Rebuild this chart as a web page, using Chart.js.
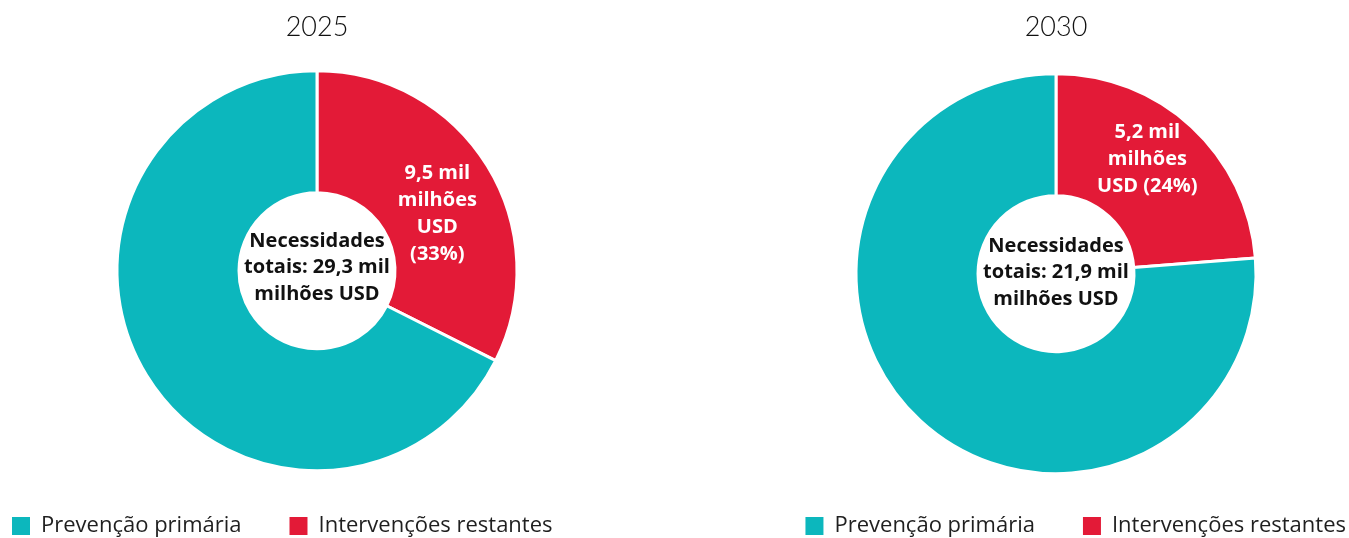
<!DOCTYPE html>
<html>
<head>
<meta charset="utf-8">
<script src="https://cdn.jsdelivr.net/npm/chart.js@4.4.1/dist/chart.umd.min.js"></script>
<style>
  html, body { margin: 0; padding: 0; background: #fff; overflow: hidden; width: 1349px; height: 538px; }
  .box { position: absolute; top: 0; height: 547px; }
</style>
</head>
<body>
<div class="box" style="left:-36px;width:706px"><canvas id="chart2025"></canvas></div>
<div class="box" style="left:718px;width:676px"><canvas id="chart2030"></canvas></div>
<script>
// data (mil milhões USD)
const years = ['2025', '2030'];
const categories = ['Intervenções restantes', 'Prevenção primária'];
const restantes = [9.5, 5.2];
const prevencao = [19.8, 16.7];
const totais = [29.3, 21.9];
const percent = [33, 24];

const colors = ['#E31A37', '#0CB7BD'];

function fmt(v) {
    return v.toFixed(1).replace('.', ',');
}

// draws a few centred lines of text around (x, y)
function drawLines(ctx, lines, x, y, lh) {
    let y0 = y - (lines.length - 1) * lh / 2;
    lines.forEach((t, i) => ctx.fillText(t, x, y0 + i * lh));
}

const sliceText = {
    id: 'sliceText',
    afterDatasetsDraw(chart, args, opts) {
        const ctx = chart.ctx;
        const arc = chart.getDatasetMeta(0).data[0];
        const pos = arc.getCenterPoint();
        ctx.save();
        ctx.textAlign = 'center';
        ctx.textBaseline = 'middle';
        ctx.font = '700 20px "Open Sans"';
        ctx.fillStyle = '#ffffff';
        drawLines(ctx, opts.slice, pos.x + opts.dx, pos.y + opts.dy, 27);
        ctx.fillStyle = '#111111';
        drawLines(ctx, opts.center, arc.x, arc.y + opts.cy, 26.5);
        ctx.restore();
    }
};

function makeChart(i, sliceLines, dx, dy, cy, titleBottom, legendAlign) {
    const ctx = document.getElementById('chart' + years[i]);
    return new Chart(ctx, {
        type: 'doughnut',
        data: {
            labels: categories,
            datasets: [{
                data: [restantes[i], prevencao[i]],
                backgroundColor: colors,
                borderColor: '#ffffff',
                borderWidth: 3
            }]
        },
        options: {
            responsive: true,
            maintainAspectRatio: false,
            animation: false,
            radius: 200,
            cutout: '39%',
            plugins: {
                tooltip: { enabled: false },
                title: {
                    display: true,
                    text: years[i],
                    color: '#111111',
                    font: { family: 'Lato', size: 27, weight: '300' },
                    padding: { top: 11, bottom: titleBottom }
                },
                legend: {
                    position: 'bottom',
                    align: legendAlign,
                    reverse: true,
                    labels: {
                        boxWidth: 18,
                        boxHeight: 18,
                        padding: 48,
                        color: '#1f1f1f',
                        font: { family: 'Open Sans', size: 22, weight: '400' },
                        generateLabels(chart) {
                            const items = Chart.overrides.doughnut.plugins.legend.labels.generateLabels(chart);
                            items.forEach(it => { it.lineWidth = 0; });
                            return items;
                        }
                    }
                },
                sliceText: {
                    slice: sliceLines,
                    center: ['Necessidades', 'totais: ' + fmt(totais[i]) + ' mil', 'milhões USD'],
                    dx: dx,
                    dy: dy,
                    cy: cy
                }
            }
        },
        plugins: [sliceText]
    });
}

makeChart(0, [fmt(restantes[0]) + ' mil', 'milhões', 'USD', '(' + percent[0] + '%)'], 2, 16, -3, 31, 'start');
makeChart(1, [fmt(restantes[1]) + ' mil', 'milhões', 'USD (' + percent[1] + '%)'], -3, -12, -1, 37, 'end');
</script>
</body>
</html>
